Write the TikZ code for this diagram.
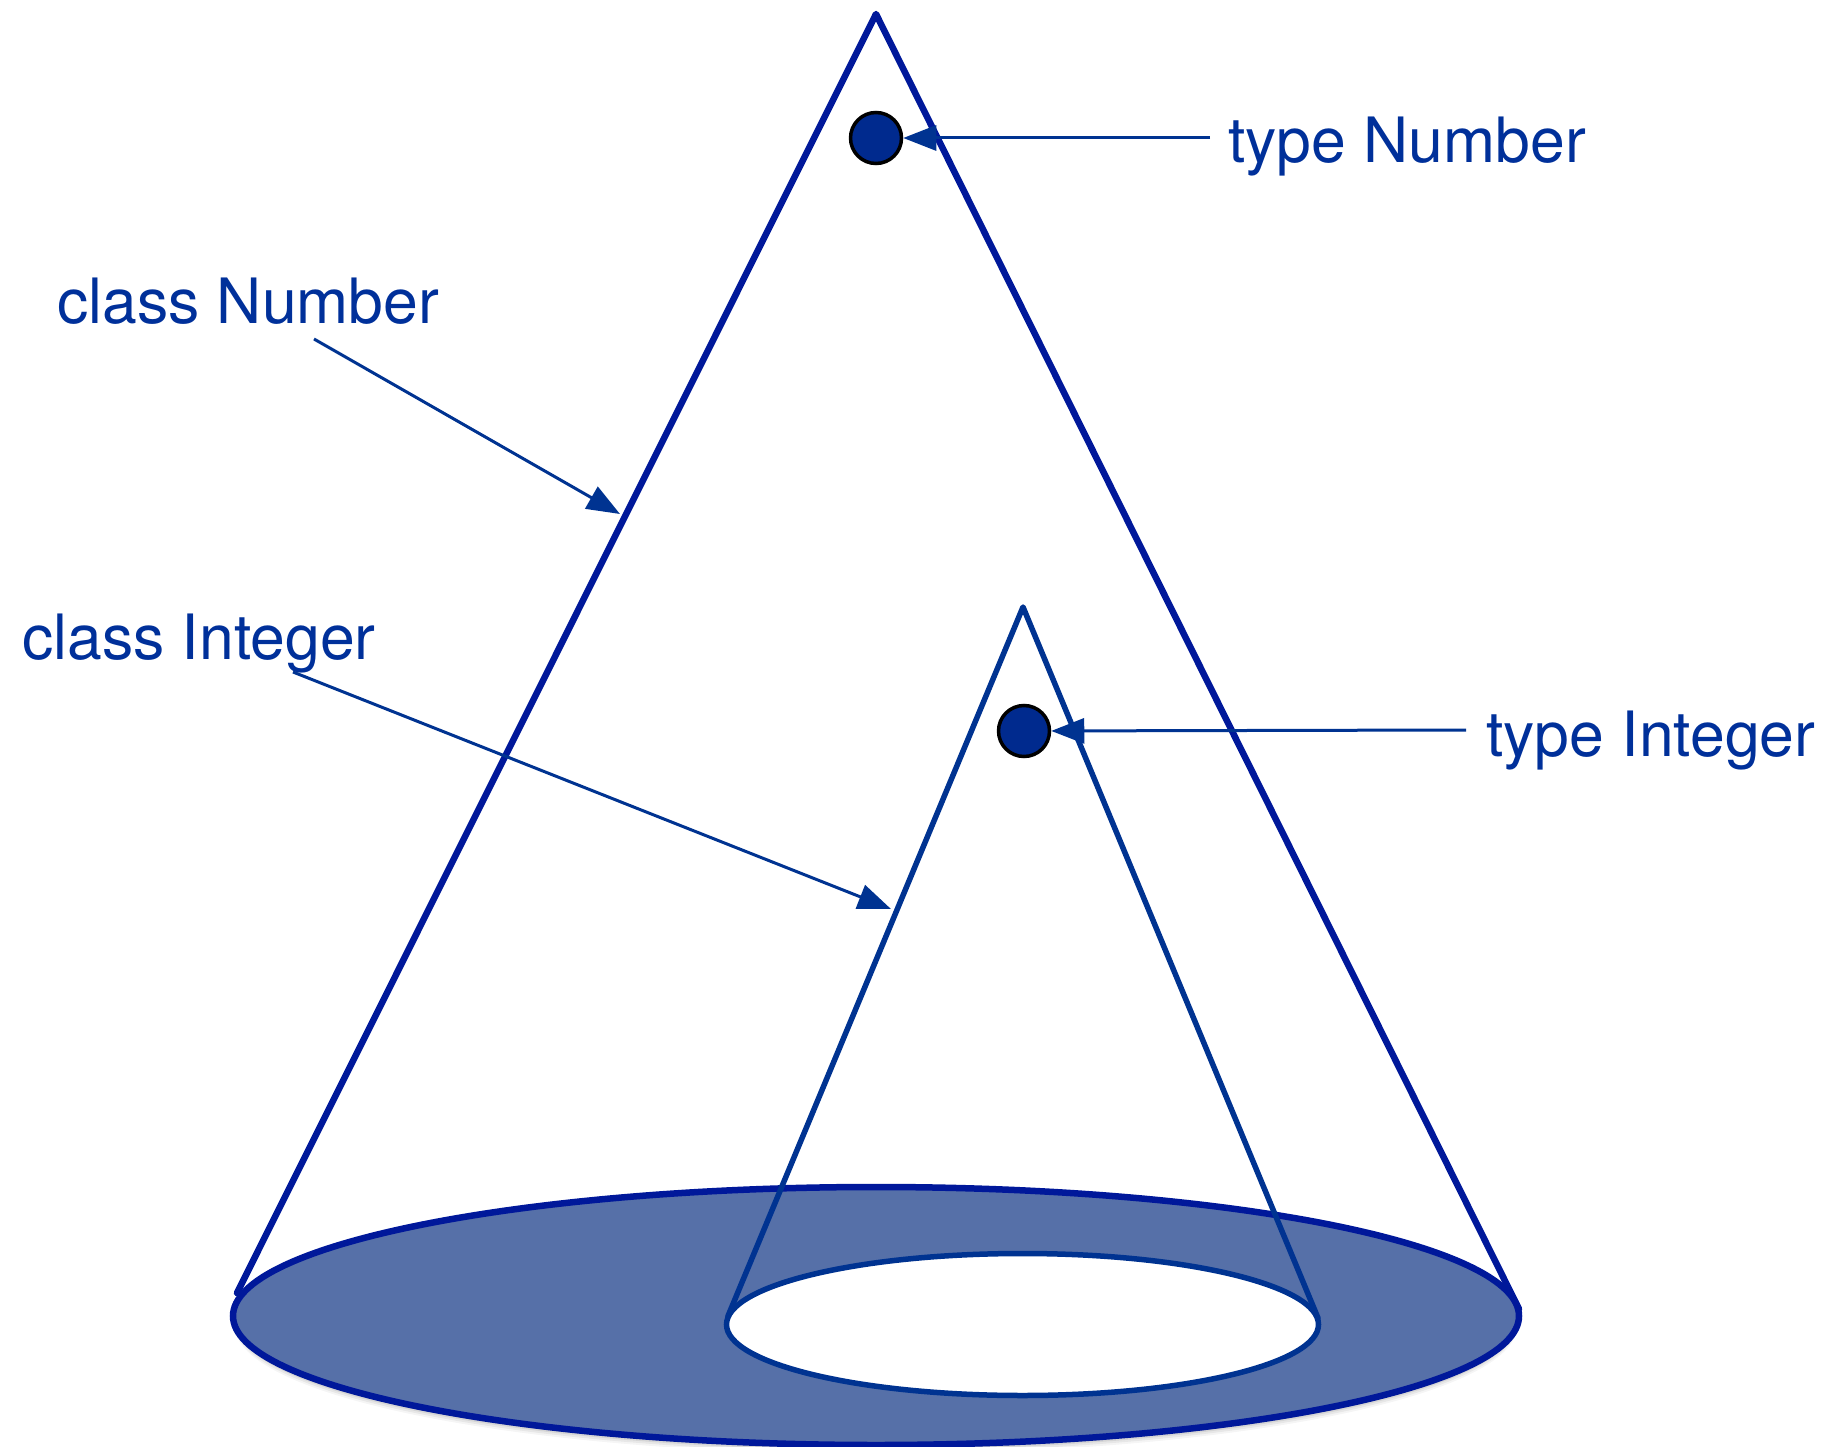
\documentclass[tikz,border=0pt]{standalone}
\usepackage{fontspec}
\setmainfont{TeX Gyre Heros}
\usetikzlibrary{arrows.meta}
\definecolor{conecol}{HTML}{00189A}
\definecolor{smallcol}{HTML}{003391}
\definecolor{txtcol}{HTML}{00309A}
\definecolor{discfill}{HTML}{5670A8}
\definecolor{dotfill}{HTML}{002A8E}
\tikzset{
  lbl/.style={anchor=base west, inner sep=0pt, text=txtcol, font=\fontsize{62.5}{70}\selectfont},
  bigline/.style={draw=conecol, line width=6.5pt, line join=round, line cap=round},
  smallline/.style={draw=smallcol, line width=5.5pt, line join=round, line cap=round},
  arr/.style={draw=smallcol, line width=3pt, -{Triangle[length=33pt,width=25pt]}},
  dot/.style={circle, draw=black, line width=3.5pt, fill=dotfill, minimum size=51pt, inner sep=0pt}
}
\begin{document}
\begin{tikzpicture}[x=1pt,y=-1pt]
\useasboundingbox (0,0) rectangle (1829,1447);
% cone points
\coordinate (bApex) at (876,14);
\coordinate (bLeft) at (237,1293);
\coordinate (bRight) at (1519,1309);
\coordinate (sApex) at (1023,607);
\coordinate (sLeft) at (728,1316);
\coordinate (sRight) at (1318,1318);
% big cone sides
\draw[bigline] (bLeft) -- (bApex) -- (bRight);
% shadow of disc
\foreach \d/\o in {10/0.04,8/0.06,6/0.08,4/0.1}
  \fill[black, opacity=\o] (876,1316+\d) ellipse [x radius=641, y radius=128];
% disc
\draw[draw=conecol, line width=6.5pt, fill=discfill] (876,1316) ellipse [x radius=643, y radius=129];
\draw[draw=smallcol, line width=5.5pt, fill=white] (1022.5,1324.5) ellipse [x radius=296, y radius=71];
% small cone sides
\draw[smallline] (sLeft) -- (sApex) -- (sRight);
% dots
\node[dot] (dot1) at (876,138) {};
\node[dot] (dot2) at (1024,731) {};
% labels
\node[lbl] (tN) at (1228,163) {type Number};
\node[lbl] (cN) at (57,324) {class Number};
\node[lbl] (cI) at (22,659) {class Integer};
\node[lbl] (tI) at (1486,756) {type Integer};
% arrow ends
\coordinate (tNtail) at (1210,138);
\coordinate (tItail) at (1466,730);
\coordinate (cNtail) at (314,339);
\coordinate (cNtip) at (620,514);
\coordinate (cItail) at (293,672);
\coordinate (cItip) at (891,909);
\draw[arr] (tNtail) -- (dot1);
\draw[arr] (tItail) -- (dot2);
\draw[arr] (cNtail) -- (cNtip);
\draw[arr] (cItail) -- (cItip);
\end{tikzpicture}
\end{document}
